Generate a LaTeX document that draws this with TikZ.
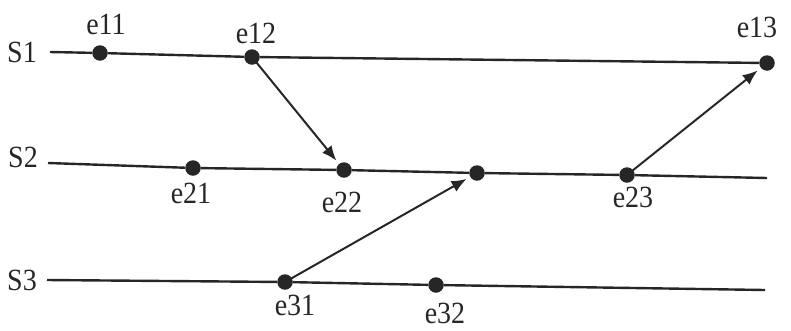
\documentclass[tikz,border=0pt]{standalone}
\usepackage{fontspec}
\setmainfont{Liberation Serif}
\usetikzlibrary{arrows.meta}
\newcommand{\tall}[1]{\scalebox{1}[1.1]{#1}}
\begin{document}
\begin{tikzpicture}[x=1pt,y=-1pt,
  ev/.style={circle,fill=black!85,inner sep=0pt,minimum size=15.5pt},
  proc/.style={line width=2.4pt,black!85},
  msg/.style={line width=2pt,black!85,shorten >=4pt,-{Latex[length=15pt,width=12pt]}},
  lbl/.style={font=\fontsize{28}{28}\selectfont,inner sep=0pt,text=black!85}]
\useasboundingbox (0,0) rectangle (791,330);
% process labels and line starts
\node[lbl] (S1) at (22,52) {\tall{S1}};
\node[lbl] (S2) at (23,157) {\tall{S2}};
\node[lbl] (S3) at (22,280) {\tall{S3}};
\coordinate (s1a) at (50,52);
\coordinate (s2a) at (48,163);
\coordinate (s3a) at (47,280);
\coordinate (s2b) at (767,178);
\coordinate (s3b) at (765,290);
% events
\node[ev] (e11) at (100,53) {};
\node[ev] (e12) at (252,57) {};
\node[ev] (e13) at (767,63) {};
\node[ev] (e21) at (193,168) {};
\node[ev] (e22) at (344,170) {};
\node[ev] (e2x) at (477,173) {};
\node[ev] (e23) at (627,175) {};
\node[ev] (e31) at (285,282) {};
\node[ev] (e32) at (436,285) {};
% process lines
\draw[proc] (s1a) -- (e11) -- (e12) -- (e13);
\draw[proc] (s2a) -- (e21) -- (e22) -- (e2x) -- (e23) -- (s2b);
\draw[proc] (s3a) -- (e31) -- (e32) -- (s3b);
% messages
\draw[msg] (e12.center) -- (e22);
\draw[msg] (e31.center) -- (e2x);
\draw[msg] (e23.center) -- (e13);
% event labels
\node[lbl] (l11) at (106,24) {\tall{e11}};
\node[lbl] (l12) at (256,33) {\tall{e12}};
\node[lbl] (l13) at (757,27) {\tall{e13}};
\node[lbl] (l21) at (191,193) {\tall{e21}};
\node[lbl] (l22) at (342,202) {\tall{e22}};
\node[lbl] (l23) at (633,197) {\tall{e23}};
\node[lbl] (l31) at (295,305) {\tall{e31}};
\node[lbl] (l32) at (445,313) {\tall{e32}};
\end{tikzpicture}
\end{document}
